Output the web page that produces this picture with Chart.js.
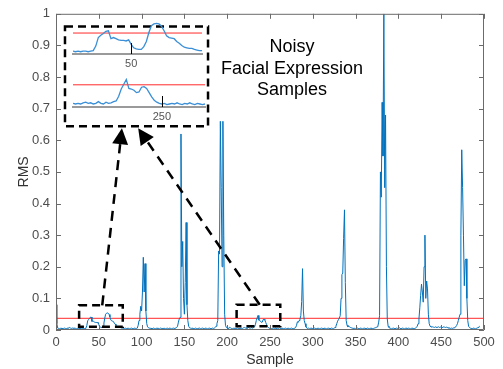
<!DOCTYPE html>
<html>
<head>
<meta charset="utf-8">
<script src="https://cdn.jsdelivr.net/npm/chart.js@4.4.1/dist/chart.umd.min.js"></script>
<style>
  html, body { margin: 0; padding: 0; background: #fff; }
  #wrap { position: relative; width: 503px; height: 369px; }
  #wrap canvas { position: absolute; }
  #note {
    position: absolute; left: 212px; top: 36px; width: 160px;
    text-align: center; color: #000;
    font: 18px "Liberation Sans", Arial, sans-serif; line-height: 21.5px;
  }
</style>
</head>
<body>
<div id="wrap">
  <canvas id="main" width="503" height="369" style="left:0;top:0"></canvas>
  <canvas id="zoomA" width="138" height="54" style="left:68px;top:18px"></canvas>
  <canvas id="zoomB" width="140" height="52" style="left:68px;top:70px"></canvas>
  <div id="note">Noisy<br>Facial Expression<br>Samples</div>
</div>
<script>
// RMS per sample (one row = 20 samples)
const rms = [
  0.080,0.020,0.006,0.005,0.004,0.005,0.006,0.004,0.005,0.005,0.006,0.005,0.004,0.006,0.005,0.007,0.008,0.006,0.005,0.006,
  0.006,0.005,0.006,0.005,0.004,0.005,0.004,0.005,0.004,0.005,0.004,0.005,0.005,0.004,0.005,0.006,0.014,0.029,0.033,0.036,
  0.040,0.041,0.027,0.029,0.027,0.025,0.024,0.024,0.023,0.025,0.017,0.011,0.009,0.008,0.008,0.013,0.022,0.038,0.050,0.053,
  0.054,0.053,0.049,0.041,0.032,0.029,0.028,0.027,0.022,0.019,0.015,0.012,0.011,0.010,0.010,0.008,0.007,0.006,0.006,0.005,
  0.005,0.006,0.004,0.005,0.006,0.005,0.004,0.005,0.006,0.005,0.004,0.005,0.006,0.005,0.005,0.006,0.015,0.030,0.050,0.075,
  0.060,0.120,0.230,0.120,0.210,0.060,0.020,0.010,0.007,0.006,0.005,0.006,0.004,0.005,0.006,0.005,0.004,0.005,0.006,0.005,
  0.005,0.004,0.006,0.005,0.005,0.004,0.006,0.005,0.004,0.005,0.006,0.004,0.005,0.006,0.005,0.004,0.005,0.006,0.005,0.006,
  0.006,0.008,0.012,0.025,0.035,0.040,0.620,0.200,0.280,0.100,0.050,0.150,0.340,0.080,0.030,0.012,0.007,0.006,0.005,0.006,
  0.005,0.004,0.005,0.006,0.005,0.004,0.005,0.005,0.006,0.004,0.005,0.006,0.005,0.004,0.005,0.006,0.005,0.004,0.005,0.006,
  0.005,0.004,0.005,0.006,0.005,0.006,0.008,0.012,0.020,0.030,0.250,0.240,0.660,0.450,0.200,0.660,0.300,0.050,0.015,0.008,
  0.006,0.005,0.007,0.009,0.006,0.005,0.004,0.005,0.006,0.005,0.004,0.005,0.006,0.005,0.004,0.006,0.005,0.006,0.005,0.007,
  0.008,0.006,0.007,0.005,0.006,0.009,0.006,0.005,0.008,0.006,0.007,0.009,0.010,0.018,0.030,0.038,0.046,0.031,0.030,0.028,
  0.024,0.025,0.033,0.034,0.031,0.024,0.017,0.011,0.008,0.006,0.005,0.006,0.004,0.005,0.006,0.005,0.007,0.005,0.004,0.006,
  0.005,0.007,0.005,0.004,0.006,0.005,0.004,0.005,0.006,0.004,0.005,0.006,0.005,0.004,0.005,0.006,0.005,0.004,0.005,0.006,
  0.008,0.015,0.026,0.024,0.030,0.035,0.045,0.090,0.194,0.060,0.030,0.020,0.010,0.006,0.005,0.006,0.004,0.005,0.006,0.005,
  0.004,0.005,0.006,0.005,0.004,0.005,0.006,0.005,0.004,0.005,0.006,0.005,0.005,0.004,0.006,0.005,0.004,0.005,0.006,0.005,
  0.004,0.005,0.006,0.005,0.004,0.006,0.008,0.012,0.020,0.028,0.033,0.038,0.045,0.100,0.175,0.180,0.290,0.380,0.150,0.030,
  0.015,0.010,0.012,0.010,0.008,0.007,0.006,0.005,0.006,0.005,0.004,0.005,0.006,0.005,0.004,0.005,0.006,0.005,0.004,0.005,
  0.006,0.005,0.004,0.005,0.006,0.005,0.004,0.005,0.006,0.005,0.004,0.005,0.006,0.007,0.008,0.010,0.012,0.025,0.045,0.500,
  0.420,0.720,0.550,1.000,0.450,0.680,0.200,0.035,0.012,0.008,0.006,0.005,0.004,0.005,0.006,0.005,0.004,0.005,0.006,0.005,
  0.006,0.007,0.005,0.004,0.005,0.006,0.005,0.004,0.005,0.006,0.005,0.004,0.006,0.005,0.004,0.005,0.006,0.005,0.004,0.005,
  0.006,0.008,0.012,0.020,0.035,0.070,0.110,0.145,0.120,0.088,0.200,0.300,0.100,0.155,0.130,0.050,0.020,0.012,0.010,0.009,
  0.010,0.009,0.008,0.010,0.009,0.008,0.009,0.010,0.008,0.009,0.010,0.008,0.009,0.010,0.009,0.008,0.009,0.008,0.007,0.006,
  0.006,0.005,0.006,0.005,0.006,0.007,0.008,0.010,0.014,0.020,0.030,0.040,0.050,0.300,0.570,0.450,0.300,0.140,0.220,0.225,
  0.100,0.030,0.012,0.008,0.006,0.005,0.004,0.005,0.006,0.005,0.004,0.005,0.006,0.008,0.010,0.012
];
const samples = rms.map((_, i) => i);
const threshold = 0.037;

const xTicks = [0, 50, 100, 150, 200, 250, 300, 350, 400, 450, 500];
const yTicks = [0, 0.1, 0.2, 0.3, 0.4, 0.5, 0.6, 0.7, 0.8, 0.9, 1];

// highlighted noisy windows (sample range, RMS range)
const boxX0 = [27, 211];
const boxX1 = [78, 262];
const boxY0 = [0.01, 0.012];
const boxY1 = [0.078, 0.08];

// inset frame and arrows, in data units
const frameX = [10.5, 177.6];
const frameY = [0.644, 0.96];
const arrowFromX = [54, 238];
const arrowFromY = [0.078, 0.08];
const arrowToX = [77, 96];
const arrowToY = [0.638, 0.638];

// zoomed windows shown in the inset
const insetARange = [27, 78];
const insetBRange = [215, 267];
const insetATicks = [50];
const insetBTicks = [250];

const FONT = '"Liberation Sans", Arial, sans-serif';
const BLUE = '#0072BD';
const RED = '#ff2a2a';

const points = (lo, hi) => samples
  .filter(s => s >= lo - 1 && s <= hi + 1)
  .map(s => ({ x: s, y: rms[s] }));

// MATLAB-like box with inward ticks
const axisBox = {
  id: 'axisBox',
  afterDraw(chart, args, opts) {
    const { ctx, chartArea: a, scales: { x, y } } = chart;
    ctx.save();
    ctx.strokeStyle = opts.color;
    ctx.lineWidth = 1;
    ctx.beginPath();
    if (opts.box) {
      ctx.rect(a.left + 0.5, a.top + 0.5, a.width - 1, a.height - 1);
    }
    x.ticks.forEach(t => {
      const px = Math.round(x.getPixelForValue(t.value)) + 0.5;
      ctx.moveTo(px, a.bottom);
      ctx.lineTo(px, a.bottom - opts.len);
      if (opts.box) {
        ctx.moveTo(px, a.top);
        ctx.lineTo(px, a.top + opts.len);
      }
    });
    if (opts.box) {
      y.ticks.forEach(t => {
        const py = Math.round(y.getPixelForValue(t.value)) + 0.5;
        ctx.moveTo(a.left, py);
        ctx.lineTo(a.left + opts.len, py);
        ctx.moveTo(a.right, py);
        ctx.lineTo(a.right - opts.len, py);
      });
    }
    ctx.stroke();
    ctx.restore();
  }
};

// dashed windows, inset frame and arrows
const callouts = {
  id: 'callouts',
  afterDatasetsDraw(chart) {
    const { ctx, scales: { x, y } } = chart;
    ctx.save();
    ctx.strokeStyle = '#000';
    ctx.fillStyle = '#000';
    ctx.lineWidth = 2.5;
    ctx.setLineDash([8, 5]);
    for (let i = 0; i < boxX0.length; i++) {
      const l = x.getPixelForValue(boxX0[i]), r = x.getPixelForValue(boxX1[i]);
      const t = y.getPixelForValue(boxY1[i]), b = y.getPixelForValue(boxY0[i]);
      ctx.strokeRect(l, t, r - l, b - t);
    }
    const fl = x.getPixelForValue(frameX[0]), fr = x.getPixelForValue(frameX[1]);
    const ft = y.getPixelForValue(frameY[1]), fb = y.getPixelForValue(frameY[0]);
    ctx.strokeRect(fl, ft, fr - fl, fb - ft);

    for (let i = 0; i < arrowFromX.length; i++) {
      const x0 = x.getPixelForValue(arrowFromX[i]), y0 = y.getPixelForValue(arrowFromY[i]);
      const x1 = x.getPixelForValue(arrowToX[i]), y1 = y.getPixelForValue(arrowToY[i]);
      const ang = Math.atan2(y1 - y0, x1 - x0);
      const head = 16, half = 8;
      const bx = x1 - head * Math.cos(ang), by = y1 - head * Math.sin(ang);
      ctx.setLineDash([10, 7]);
      ctx.beginPath();
      ctx.moveTo(x0, y0);
      ctx.lineTo(bx, by);
      ctx.stroke();
      ctx.setLineDash([]);
      ctx.beginPath();
      ctx.moveTo(x1, y1);
      ctx.lineTo(bx + half * Math.sin(ang), by - half * Math.cos(ang));
      ctx.lineTo(bx - half * Math.sin(ang), by + half * Math.cos(ang));
      ctx.closePath();
      ctx.fill();
    }
    ctx.restore();
  }
};

new Chart(document.getElementById('main'), {
  type: 'line',
  data: {
    datasets: [
      { data: samples.map(s => ({ x: s, y: rms[s] })), borderColor: BLUE, borderWidth: 1, pointRadius: 0, tension: 0 },
      { data: [{ x: 0, y: threshold }, { x: 500, y: threshold }], borderColor: RED, borderWidth: 1, pointRadius: 0 }
    ]
  },
  options: {
    responsive: false,
    animation: false,
    devicePixelRatio: 1,
    layout: { padding: { left: 0, top: 7, right: 19, bottom: 0 } },
    plugins: {
      legend: { display: false },
      tooltip: { enabled: false },
      axisBox: { color: '#6b6b6b', len: 5, box: true }
    },
    scales: {
      x: {
        type: 'linear', min: 0, max: 500,
        afterBuildTicks: s => { s.ticks = xTicks.map(v => ({ value: v })); },
        afterFit: s => { s.height = 39; },
        grid: { display: false, drawTicks: false },
        border: { display: false },
        ticks: { color: '#4d4d4d', font: { family: FONT, size: 13 }, padding: 5, maxRotation: 0 },
        title: { display: true, text: 'Sample', color: '#333', font: { family: FONT, size: 14 }, padding: { top: 0, bottom: 0 } }
      },
      y: {
        type: 'linear', min: 0, max: 1,
        afterBuildTicks: s => { s.ticks = yTicks.map(v => ({ value: v })); },
        afterFit: s => { s.width = 56; },
        grid: { display: false, drawTicks: false },
        border: { display: false },
        ticks: { color: '#4d4d4d', font: { family: FONT, size: 13 }, padding: 6, callback: v => String(+v.toFixed(1)) },
        title: { display: true, text: 'RMS', color: '#333', font: { family: FONT, size: 14 }, padding: { top: 16, bottom: 0 } }
      }
    }
  },
  plugins: [axisBox, callouts]
});

function makeInset(id, range, ticks, pad, axisH) {
  new Chart(document.getElementById(id), {
    type: 'line',
    data: {
      datasets: [
        { data: points(range[0], range[1]), borderColor: '#3a8fd6', borderWidth: 1.3, pointRadius: 0, tension: 0 },
        { data: [{ x: range[0], y: threshold }, { x: range[1], y: threshold }], borderColor: RED, borderWidth: 1, pointRadius: 0 }
      ]
    },
    options: {
      responsive: false,
      animation: false,
      devicePixelRatio: 1,
      layout: { padding: pad },
      plugins: {
        legend: { display: false },
        tooltip: { enabled: false },
        axisBox: { color: '#000', len: 11, box: false }
      },
      scales: {
        x: {
          type: 'linear', min: range[0], max: range[1],
          afterBuildTicks: s => { s.ticks = ticks.map(v => ({ value: v })); },
          afterFit: s => { s.height = axisH; },
          grid: { display: false, drawTicks: false },
          border: { display: true, color: '#9a9a9a', width: 2 },
          ticks: { color: '#555', font: { family: FONT, size: 11 }, padding: 3, maxRotation: 0 }
        },
        y: { display: false, min: 0, max: 0.06 }
      }
    },
    plugins: [axisBox]
  });
}

makeInset('zoomA', insetARange, insetATicks, { left: 5, right: 4, top: 2, bottom: 0 }, 18);
makeInset('zoomB', insetBRange, insetBTicks, { left: 5, right: 3, top: 1, bottom: 0 }, 15);
</script>
</body>
</html>
